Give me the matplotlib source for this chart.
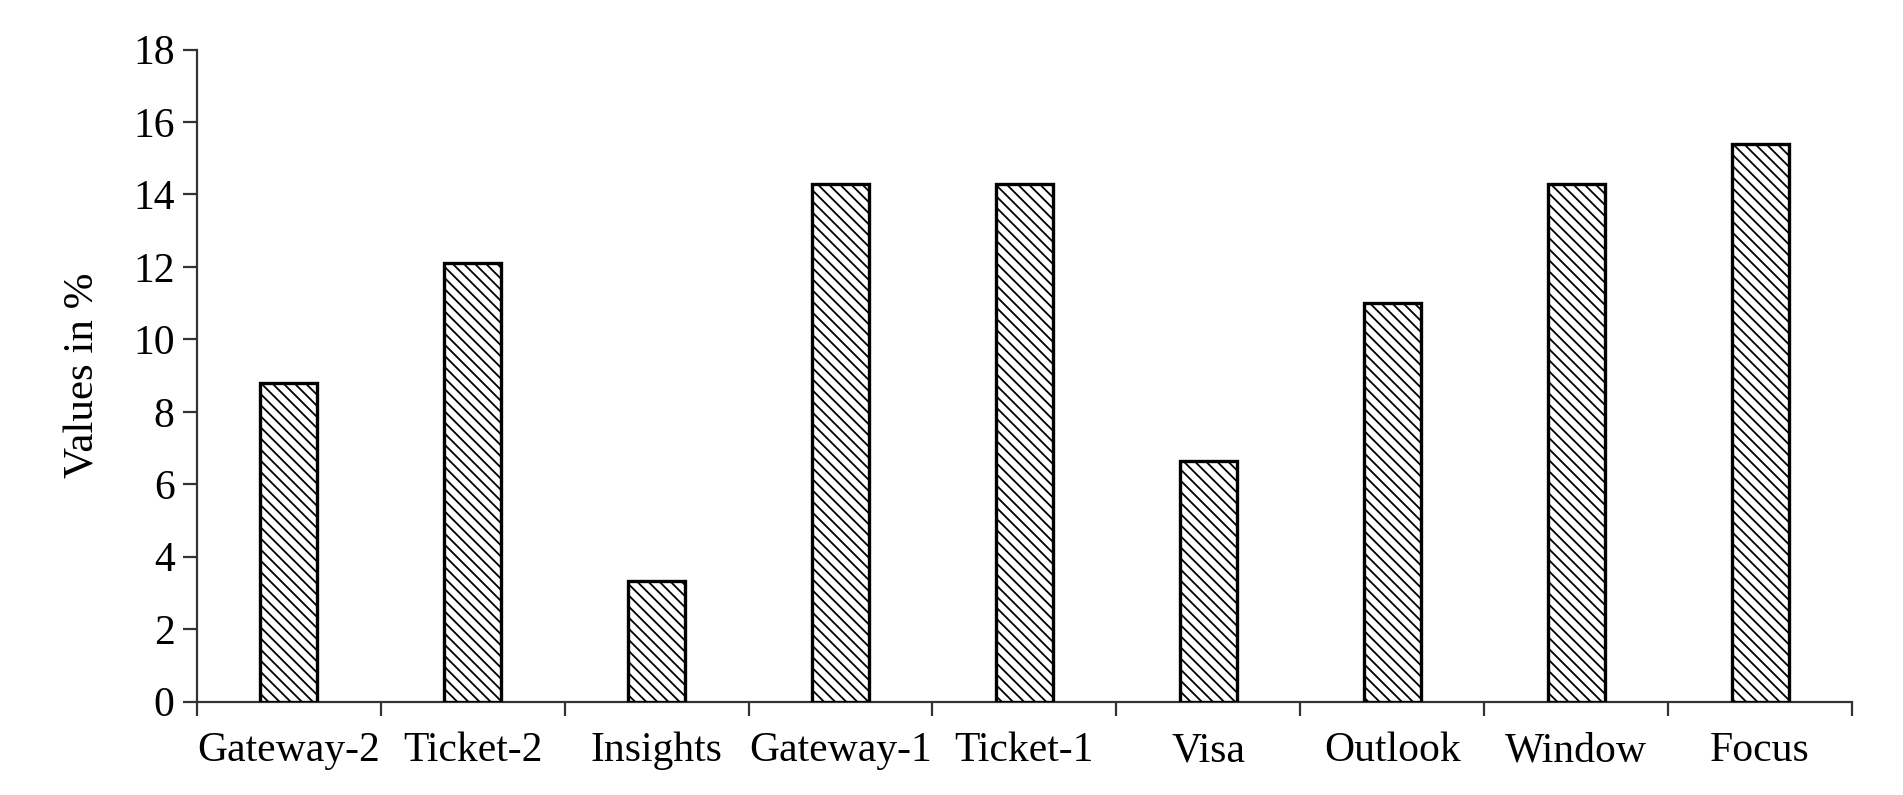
import matplotlib
matplotlib.use("Agg")
import matplotlib.pyplot as plt
import numpy as np

categories = ["Gateway-2", "Ticket-2", "Insights", "Gateway-1", "Ticket-1",
              "Visa", "Outlook", "Window", "Focus"]
values = [8.8, 12.1, 3.33, 14.3, 14.3, 6.64, 11.0, 14.3, 15.4]
yticks = [0, 2, 4, 6, 8, 10, 12, 14, 16, 18]

plt.rcParams['font.family'] = ['Liberation Serif', 'DejaVu Serif']
plt.rcParams['hatch.linewidth'] = 1.3

fig = plt.figure(figsize=(19.03, 7.95), dpi=100)
ax = fig.add_axes([0.1034, 0.1174, 0.9732 - 0.1034, 0.9377 - 0.1174])

x = np.arange(len(categories))
ax.bar(x, values, width=0.31, color='white', edgecolor='black',
       linewidth=2.4, hatch='\\\\\\', zorder=3)

ax.set_xlim(-0.5, len(categories) - 0.5)
ax.set_ylim(0, 18)
ax.set_yticks(yticks)
ax.set_yticklabels([str(t) for t in yticks], fontsize=30)

ax.set_xticks(np.arange(len(categories) + 1) - 0.5)
ax.set_xticklabels([])
ax.set_xticks(x, minor=True)
ax.set_xticklabels(categories, minor=True, fontsize=30)
for lab in ax.get_xticklabels(minor=True):
    lab.set_verticalalignment('baseline')
ax.tick_params(axis='x', which='minor', length=0, pad=43)
ax.tick_params(axis='x', which='major', length=10, width=1.6, color='#333333', direction='out')
ax.tick_params(axis='y', length=10, width=1.6, color='#333333', direction='out', pad=6)

for s in ['top', 'right']:
    ax.spines[s].set_visible(False)
for s in ['left', 'bottom']:
    ax.spines[s].set_linewidth(1.6)
    ax.spines[s].set_color('#333333')

ax.set_ylabel("Values in %", fontsize=31, labelpad=22)

fig.savefig("out.png", dpi=100)
